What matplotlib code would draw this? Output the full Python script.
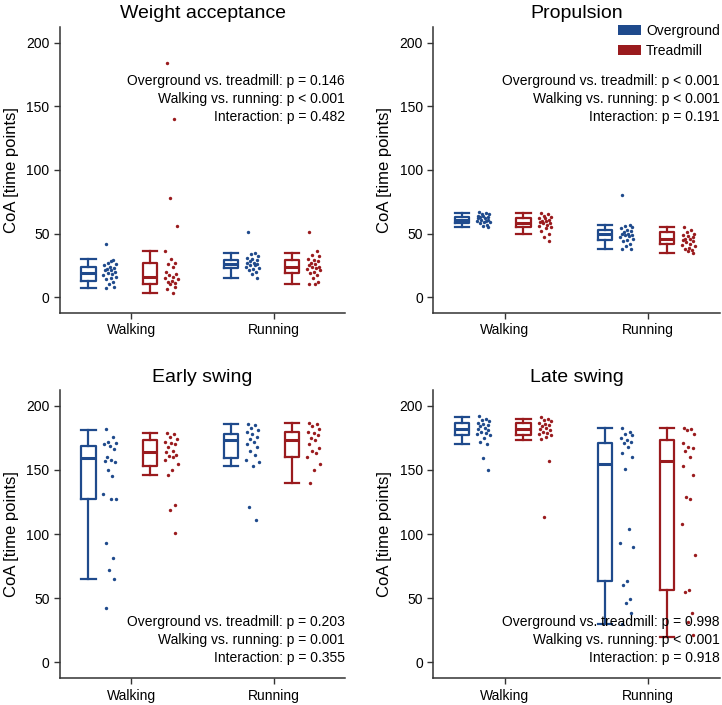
import matplotlib
matplotlib.use('Agg')
import matplotlib.pyplot as plt
from matplotlib.patches import Patch

plt.rcParams['font.family'] = ['Liberation Sans', 'DejaVu Sans']

BLUE = '#1f4a8c'
RED = '#9a1b1e'

CONDITIONS = ['Walking', 'Running']
GROUPS = ['Overground', 'Treadmill']
PANELS = ['Weight acceptance', 'Propulsion', 'Early swing', 'Late swing']

# per panel: overground walking, treadmill walking, overground running, treadmill running
WA_OG_WALK = [42, 29, 27, 26, 25, 24, 23, 22, 21, 21, 20, 19, 18, 17, 16, 15, 14, 12, 10, 8, 7, 28]
WA_TM_WALK = [184, 140, 78, 56, 36, 30, 27, 26, 24, 20, 18, 17, 16, 15, 14, 13, 12, 11, 10, 8, 6, 3]
WA_OG_RUN = [51, 35, 34, 32, 31, 30, 29, 28, 27, 27, 26, 25, 25, 24, 23, 22, 21, 20, 18, 15]
WA_TM_RUN = [51, 36, 33, 32, 30, 29, 28, 27, 26, 25, 24, 24, 23, 22, 21, 20, 19, 17, 15, 12, 10, 10]

PR_OG_WALK = [67, 66, 65, 65, 64, 64, 63, 63, 62, 62, 61, 61, 60, 60, 59, 59, 58, 57, 56, 55]
PR_TM_WALK = [66, 65, 64, 63, 62, 62, 61, 60, 60, 59, 58, 58, 57, 56, 55, 54, 52, 50, 47, 44]
PR_OG_RUN = [80, 57, 56, 55, 54, 53, 52, 51, 50, 50, 49, 49, 48, 47, 46, 45, 44, 42, 40, 38, 38]
PR_TM_RUN = [55, 53, 51, 50, 49, 48, 47, 46, 46, 45, 44, 43, 42, 41, 40, 39, 38, 37, 36, 35]

ES_OG_WALK = [182, 176, 172, 171, 170, 169, 166, 160, 158, 157, 156, 150, 145, 131, 127, 127, 93, 81, 72, 65, 42]
ES_TM_WALK = [179, 178, 176, 174, 172, 171, 170, 168, 165, 164, 162, 161, 160, 158, 155, 150, 146, 123, 119, 101]
ES_OG_RUN = [186, 185, 183, 181, 180, 178, 176, 174, 172, 170, 168, 165, 162, 158, 156, 153, 121, 111]
ES_TM_RUN = [187, 186, 184, 182, 180, 179, 177, 175, 173, 170, 167, 165, 163, 160, 155, 150, 140]

LS_OG_WALK = [192, 190, 189, 188, 187, 186, 185, 184, 183, 182, 181, 180, 179, 178, 177, 175, 172, 170, 159, 150]
LS_TM_WALK = [191, 190, 189, 188, 187, 186, 185, 184, 183, 182, 181, 180, 179, 178, 177, 176, 174, 157, 113]
LS_OG_RUN = [183, 180, 178, 177, 175, 173, 172, 171, 168, 163, 160, 151, 104, 93, 90, 63, 60, 49, 46, 38, 30]
LS_TM_RUN = [183, 182, 181, 178, 171, 168, 167, 165, 160, 153, 146, 129, 127, 108, 84, 56, 55, 38, 31, 21]

# box stats (whislo, q1, med, q3, whishi), same order as the points
WA_BOX = [(7, 13, 19, 24, 30), (3, 10, 16, 27, 36), (15, 23, 26, 29, 35), (10, 19, 24, 29, 35)]
PR_BOX = [(55, 58, 61, 63, 66), (50, 55, 58, 62, 66), (38, 45, 50, 53, 57), (35, 42, 46, 51, 55)]
ES_BOX = [(65, 127, 159, 169, 181), (146, 153, 164, 173, 179), (153, 159, 173, 178, 186), (140, 160, 173, 180, 187)]
LS_BOX = [(170, 177, 182, 187, 191), (173, 177, 182, 187, 190), (30, 63, 155, 171, 183), (20, 56, 157, 173, 183)]

P_TEXT = [
    ['Overground vs. treadmill: p = 0.146', 'Walking vs. running: p < 0.001', 'Interaction: p = 0.482'],
    ['Overground vs. treadmill: p < 0.001', 'Walking vs. running: p < 0.001', 'Interaction: p = 0.191'],
    ['Overground vs. treadmill: p = 0.203', 'Walking vs. running: p = 0.001', 'Interaction: p = 0.355'],
    ['Overground vs. treadmill: p = 0.998', 'Walking vs. running: p < 0.001', 'Interaction: p = 0.918'],
]

POINTS = [
    [WA_OG_WALK, WA_TM_WALK, WA_OG_RUN, WA_TM_RUN],
    [PR_OG_WALK, PR_TM_WALK, PR_OG_RUN, PR_TM_RUN],
    [ES_OG_WALK, ES_TM_WALK, ES_OG_RUN, ES_TM_RUN],
    [LS_OG_WALK, LS_TM_WALK, LS_OG_RUN, LS_TM_RUN],
]
BOXES = [WA_BOX, PR_BOX, ES_BOX, LS_BOX]

# fixed horizontal scatter of the dots (plot positions, not data)
JITTER = [-0.03, 0.02, -0.01, 0.04, -0.04, 0.00, 0.03, -0.02, 0.01, -0.035,
          0.035, -0.015, 0.015, -0.045, 0.045, 0.005, -0.025, 0.025, -0.005, 0.03,
          -0.03, 0.01]

BOX_OFF = [-0.30, 0.13, -0.30, 0.13]
DOT_OFF = [-0.15, 0.28, -0.15, 0.28]
COLORS = [BLUE, RED, BLUE, RED]

fig = plt.figure(figsize=(7.22, 7.05), dpi=100)
rects = [
    [0.083, 0.556, 0.395, 0.406],
    [0.600, 0.556, 0.397, 0.406],
    [0.083, 0.038, 0.395, 0.409],
    [0.600, 0.038, 0.397, 0.409],
]

for i, rect in enumerate(rects):
    ax = fig.add_axes(rect)
    for j in range(4):
        xc = 1 + j // 2
        w, q1, med, q3, wh = BOXES[i][j]
        st = [dict(whislo=w, q1=q1, med=med, q3=q3, whishi=wh, fliers=[])]
        c = COLORS[j]
        ax.bxp(st, positions=[xc + BOX_OFF[j]], widths=0.1, capwidths=0.1,
               showfliers=False,
               boxprops=dict(color=c, linewidth=1.6),
               whiskerprops=dict(color=c, linewidth=1.6),
               capprops=dict(color=c, linewidth=1.6),
               medianprops=dict(color=c, linewidth=2.2))
        vals = POINTS[i][j]
        xs = [xc + DOT_OFF[j] + JITTER[k % len(JITTER)] for k in range(len(vals))]
        ax.scatter(xs, vals, s=6, color=c, linewidths=0, zorder=3)

    ax.set_xlim(0.5, 2.5)
    ax.set_ylim(-12.5, 212.5)
    ax.set_yticks([0, 50, 100, 150, 200])
    ax.set_xticks([1, 2])
    ax.set_xticklabels(CONDITIONS)
    ax.tick_params(labelsize=10, length=4, width=1, color='#333333')
    for s in ['top', 'right']:
        ax.spines[s].set_visible(False)
    for s in ['left', 'bottom']:
        ax.spines[s].set_color('#333333')
        ax.spines[s].set_linewidth(1.1)
    ax.set_ylabel('CoA [time points]', fontsize=12, labelpad=5)
    ax.set_title(PANELS[i], fontsize=14, pad=6)

    ty = 0.81 if i < 2 else 0.195
    for k, line in enumerate(P_TEXT[i]):
        ax.text(1.0, ty - k * 0.063, line, transform=ax.transAxes,
                ha='right', va='center', fontsize=10, zorder=5)

    if i == 1:
        handles = [Patch(facecolor=BLUE), Patch(facecolor=RED)]
        ax.legend(handles, GROUPS, loc='upper right', bbox_to_anchor=(1.0, 1.01),
                  frameon=False, fontsize=10, handlelength=1.6, handleheight=0.72,
                  borderaxespad=0, borderpad=0, handletextpad=0.4, labelspacing=0.45)

fig.savefig('out.png', dpi=100)
